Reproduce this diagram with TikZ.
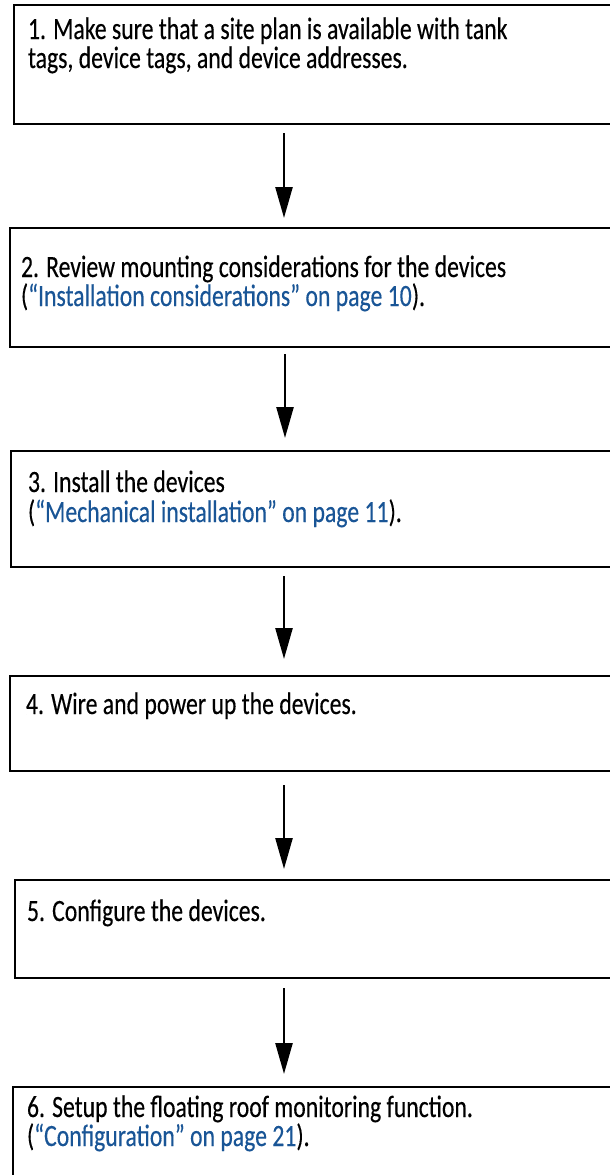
\documentclass[tikz,border=0pt]{standalone}
\usepackage{fontspec}
\setmainfont[FakeStretch=0.765,FakeBold=0.3]{Carlito}
\usetikzlibrary{arrows.meta}
\definecolor{linkblue}{RGB}{25,85,150}
\begin{document}
\begin{tikzpicture}[x=1pt,y=-1pt,
  stepbox/.style={draw=black,line width=2.5pt,anchor=north west,inner sep=0pt,outer sep=0pt,minimum width=#1},
  txt/.style={anchor=base west,inner sep=0pt,outer sep=0pt,font=\fontsize{31}{33}\selectfont},
  flow/.style={draw=black,line width=2.5pt,-{Triangle[length=31pt,width=17pt]}}]
\useasboundingbox (0,0) rectangle (610,1175);
\clip (0,0) rectangle (610,1175);
\coordinate (ax) at (284,0);
\node[stepbox=606pt,minimum height=119pt] (b1) at (14,5) {};
\node[stepbox=610pt,minimum height=119pt] (b2) at (10,228) {};
\node[stepbox=609pt,minimum height=116pt] (b3) at (11,451) {};
\node[stepbox=610pt,minimum height=95pt] (b4) at (10,676) {};
\node[stepbox=605pt,minimum height=98pt] (b5) at (15,880) {};
\node[stepbox=607pt,minimum height=103pt] (b6) at (13,1087) {};
\node[txt] (t1a) at (28,39) {1. Make sure that a site plan is available with tank};
\node[txt] (t1b) at (28,68) {tags, device tags, and device addresses.};
\node[txt] (t2a) at (21,277) {2. Review mounting considerations for the devices};
\node[txt] (t2b) at (21,306) {(\textcolor{linkblue}{“Installation considerations” on page 10}).};
\node[txt] (t3a) at (28,492) {3. Install the devices};
\node[txt] (t3b) at (28,522) {(\textcolor{linkblue}{“Mechanical installation” on page 11}).};
\node[txt] (t4a) at (26,714) {4. Wire and power up the devices.};
\node[txt] (t5a) at (27,921) {5. Configure the devices.};
\node[txt] (t6a) at (27,1117) {6. Setup the floating roof monitoring function.};
\node[txt] (t6b) at (27,1146) {(\textcolor{linkblue}{“Configuration” on page 21}).};
\draw[flow,shorten <=9pt,shorten >=10pt] (b1.south -| ax) -- (b2.north -| ax);
\draw[flow,shorten <=7pt,shorten >=13pt] ([xshift=1pt]b2.south -| ax) -- ([xshift=1pt]b3.north -| ax);
\draw[flow,shorten <=9pt,shorten >=17pt] (b3.south -| ax) -- (b4.north -| ax);
\draw[flow,shorten <=14pt,shorten >=11pt] (b4.south -| ax) -- (b5.north -| ax);
\draw[flow,shorten <=10pt,shorten >=13pt] (b5.south -| ax) -- (b6.north -| ax);
\end{tikzpicture}
\end{document}
